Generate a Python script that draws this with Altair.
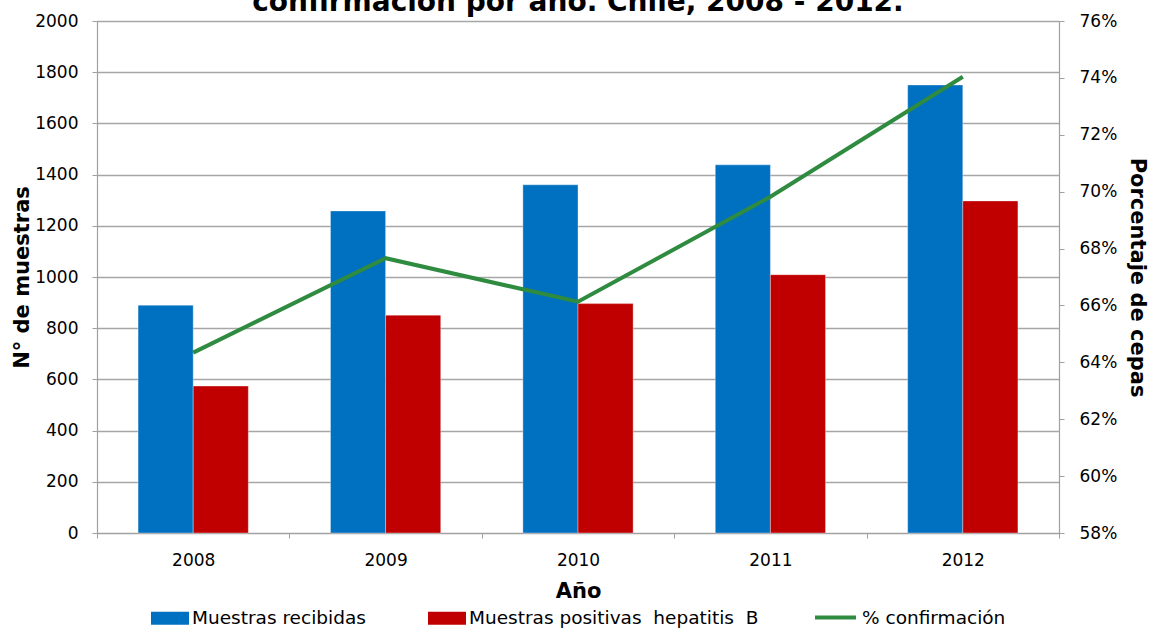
import altair as alt
import pandas as pd

years = ["2008", "2009", "2010", "2011", "2012"]
recibidas = [890, 1258, 1360, 1438, 1750]
positivas = [574, 851, 896, 1009, 1297]
confirmacion = [0.6434, 0.6766, 0.6613, 0.6982, 0.7404]
series = ["Muestras recibidas", "Muestras positivas\u00a0 hepatitis\u00a0 B"]
bar_colors = ["#0070c0", "#c00000"]
line_name = "% confirmación"
line_color = "#2e8b40"
left_ticks = [0, 200, 400, 600, 800, 1000, 1200, 1400, 1600, 1800, 2000]
right_ticks = [0.58, 0.60, 0.62, 0.64, 0.66, 0.68, 0.70, 0.72, 0.74, 0.76]

bars_df = pd.DataFrame({
    "year": years * 2,
    "serie": [series[0]] * len(years) + [series[1]] * len(years),
    "value": recibidas + positivas,
})
line_df = pd.DataFrame({"year": years, "pct": confirmacion, "serie": [line_name] * len(years)})

FONT = "DejaVu Sans"

x_enc = alt.X(
    "year:N",
    sort=years,
    scale=alt.Scale(paddingInner=0, paddingOuter=0),
    axis=alt.Axis(
        title="Año", labelAngle=0, tickBand="extent", labelPadding=14,
        titlePadding=12, grid=False, domainColor="#a0a0a0", tickColor="#a0a0a0",
    ),
)

bars = alt.Chart(bars_df).mark_bar(stroke="#ffffff", strokeOpacity=0.35, strokeWidth=1).encode(
    x=x_enc,
    xOffset=alt.XOffset("serie:N", sort=series, scale=alt.Scale(paddingInner=0, paddingOuter=0.745)),
    y=alt.Y(
        "value:Q",
        scale=alt.Scale(domain=[0, 2000], nice=False),
        axis=alt.Axis(
            title="N° de muestras", values=left_ticks, format="d", labelPadding=14,
            titlePadding=2, grid=True, gridColor="#a6a6a6", gridWidth=1.3,
        ),
    ),
    color=alt.Color(
        "serie:N", sort=series,
        scale=alt.Scale(domain=series, range=bar_colors),
        legend=alt.Legend(
            title=None, orient="none", direction="horizontal", legendX=54, legendY=578,
            symbolType="M-1,-0.34H1V0.34H-1Z", symbolSize=1444, symbolStrokeWidth=0,
            columnPadding=62, labelOffset=3, padding=0, labelLimit=400,
        ),
    ),
)

line = alt.Chart(line_df).mark_line(strokeWidth=4, color=line_color).encode(
    x=alt.X("year:N", sort=years),
    y=alt.Y(
        "pct:Q",
        scale=alt.Scale(domain=[0.58, 0.76], nice=False, zero=False),
        axis=alt.Axis(
            orient="right", title="Porcentaje de cepas", values=right_ticks, format=".0%",
            labelPadding=15, titlePadding=10, grid=False,
        ),
    ),
    stroke=alt.Stroke(
        "serie:N",
        scale=alt.Scale(domain=[line_name], range=[line_color]),
        legend=alt.Legend(
            title=None, orient="none", legendX=716, legendY=574,
            symbolType="stroke", symbolSize=1681, symbolStrokeWidth=4,
            symbolStrokeColor=line_color, labelOffset=4, padding=0, labelLimit=400,
        ),
    ),
)

chart = alt.layer(bars, line).resolve_scale(y="independent").properties(
    width=962,
    height=512,
    padding={"left": 97, "top": 21, "right": 93, "bottom": 95},
    autosize=alt.AutoSizeParams(type="none"),
    title=alt.TitleParams(
        "confirmación por año. Chile, 2008 - 2012.",
        font=FONT, fontSize=28, fontWeight="bold", color="black",
        anchor="middle", frame="group", offset=0, baseline="alphabetic", dy=27,
    ),
).configure_axis(
    labelFont=FONT, labelFontSize=17, labelColor="black",
    titleFont=FONT, titleFontSize=21, titleFontWeight="bold", titleColor="black",
    domainColor="#a0a0a0", tickColor="#a0a0a0", tickSize=5, domainWidth=1.2,
).configure_legend(
    labelFont=FONT, labelFontSize=18.5, labelColor="black",
).configure_view(stroke=None)

chart.save("out.html", embed_options={"renderer": "svg", "actions": False})
